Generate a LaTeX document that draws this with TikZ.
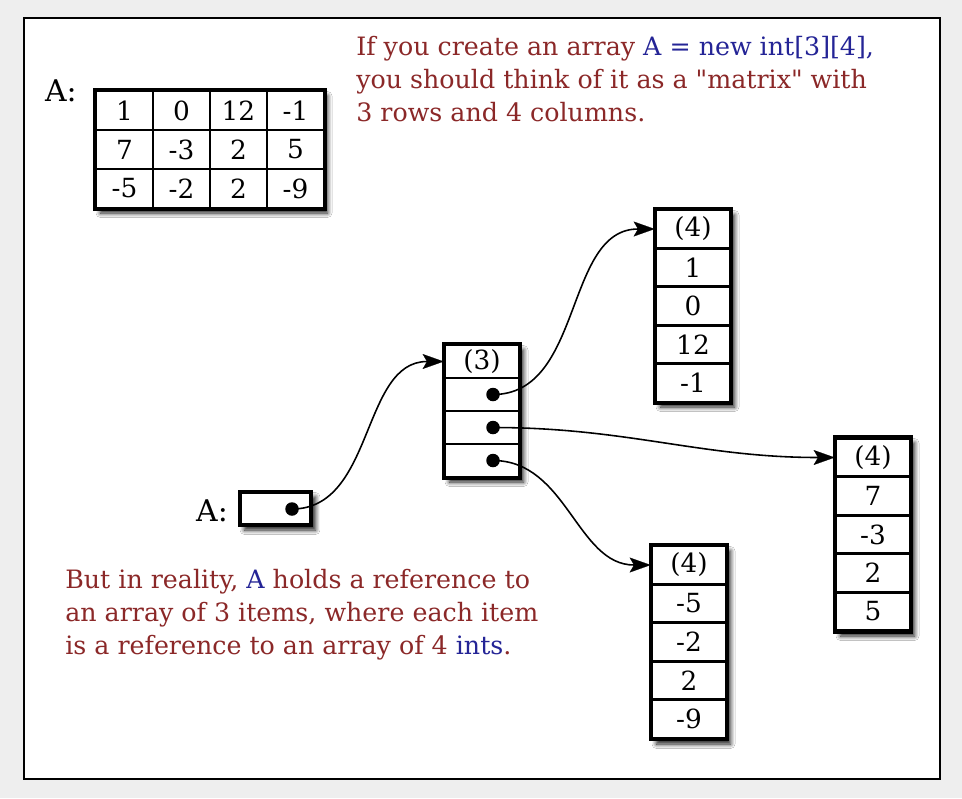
\documentclass[tikz,border=0pt]{standalone}
\usepackage{fontspec}
\setmainfont{DejaVu Serif}
\usetikzlibrary{arrows.meta, shadows.blur}
\definecolor{canvasgray}{RGB}{238,238,238}
\definecolor{notered}{RGB}{139,40,40}
\definecolor{codeblue}{RGB}{36,36,150}

\begin{document}
\begin{tikzpicture}[x=0.02cm, y=-0.02cm,
  cell/.style={draw, line width=1.5pt, fill=white, inner sep=0pt,
    minimum width=1.48cm, font=\fontsize{15}{17}\selectfont},
  frame/.style={line width=2.1pt},
  shade box/.style={fill=white, blur shadow={shadow xshift=0.09cm,
    shadow yshift=-0.1cm, shadow blur steps=8, shadow blur radius=0.09cm, shadow opacity=90}},
  ref/.style={-{Stealth[length=12pt, width=8.5pt, inset=2.5pt, fill=black, line width=0.1pt]},
    line width=0.9pt, draw=black},
  dot/.style={circle, fill=black, inner sep=0pt, minimum size=0.27cm},
  note/.style={anchor=north west, inner sep=0pt, align=left, text=notered,
    font=\fontsize{14.4}{18.7}\selectfont},
  lbl/.style={font=\fontsize{17}{19}\selectfont}]
% ---- canvas ----
\fill[canvasgray] (0,0) rectangle (962,798);
\draw[line width=1.2pt, fill=white] (24,18) rectangle (940,779);

% ---- the "matrix" view ----
\node[lbl] (lblTop) at (61,91) {A:};
\draw[frame, shade box] (96,91) rectangle (323,208);
\foreach \v [count=\i] in {1,0,12,-1}
  \node[cell, minimum width=1.14cm, minimum height=0.78cm] (ra\i) at ({124.5+57*(\i-1)},110.5) {\v};
\foreach \v [count=\i] in {7,-3,2,5}
  \node[cell, minimum width=1.14cm, minimum height=0.78cm] (rb\i) at ({124.5+57*(\i-1)},149.5) {\v};
\foreach \v [count=\i] in {-5,-2,2,-9}
  \node[cell, minimum width=1.14cm, minimum height=0.78cm] (rc\i) at ({124.5+57*(\i-1)},188.5) {\v};
\draw[frame] (ra1.north west) rectangle (rc4.south east);

% ---- the variable A ----
\node[lbl] (lblA) at (212,511) {A:};
\node[cell, frame, shade box, minimum width=1.42cm, minimum height=0.66cm] (aBox) at (275.5,508.5) {};
\node[dot] (aDot) at (292,509) {};

% ---- array of 3 references ----
\draw[frame, shade box] (445,345) rectangle (519,477);
\node[cell, minimum height=0.66cm] (mid0) at (482,361.5) {(3)};
\foreach \i in {1,2,3}
  \node[cell, minimum height=0.66cm] (mid\i) at (482,{361.5+33*\i}) {};
\draw[frame] (mid0.north west) rectangle (mid3.south east);
\node[dot] (dot1) at (493,394.5) {};
\node[dot] (dot2) at (493,427.5) {};
\node[dot] (dot3) at (493,460.5) {};

% ---- the three rows ----
\draw[frame, shade box] (656,210) rectangle (730,402);
\node[cell, minimum height=0.77cm] (top0) at (693,229) {(4)};
\foreach \v [count=\i] in {1,0,12,-1}
  \node[cell, minimum height=0.77cm] (top\i) at (693,{229+38.5*\i}) {\v};
\draw[frame] (top0.north west) rectangle (top4.south east);

\draw[frame, shade box] (836,438) rectangle (910,631);
\node[cell, minimum height=0.77cm] (right0) at (873,457.5) {(4)};
\foreach \v [count=\i] in {7,-3,2,5}
  \node[cell, minimum height=0.77cm] (right\i) at (873,{457.5+38.5*\i}) {\v};
\draw[frame] (right0.north west) rectangle (right4.south east);

\draw[frame, shade box] (652,546) rectangle (726,739);
\node[cell, minimum height=0.77cm] (bot0) at (689,565) {(4)};
\foreach \v [count=\i] in {-5,-2,2,-9}
  \node[cell, minimum height=0.77cm] (bot\i) at (689,{565+38.5*\i}) {\v};
\draw[frame] (bot0.north west) rectangle (bot4.south east);

% ---- references ----
\draw[ref] (aDot.center) to[out=0, in=180] (mid0.west);
\draw[ref] (dot1.center) to[out=0, in=180] (top0.west);
\draw[ref] (dot2.center) to[out=0, in=180] (right0.west);
\draw[ref] (dot3.center) to[out=0, in=180] (bot0.west);

% ---- notes ----
\node[note] (topNote) at (356,36)
  {If you create an array \textcolor{codeblue}{A = new int[3][4],}\\
   you should think of it as a \textquotedbl matrix\textquotedbl{} with\\
   3 rows and 4 columns.};
\node[note] (botNote) at (65,569)
  {But in reality, \textcolor{codeblue}{A} holds a reference to\\
   an array of 3 items, where each item\\
   is a reference to an array of 4 \textcolor{codeblue}{ints}.};
\end{tikzpicture}
\end{document}
